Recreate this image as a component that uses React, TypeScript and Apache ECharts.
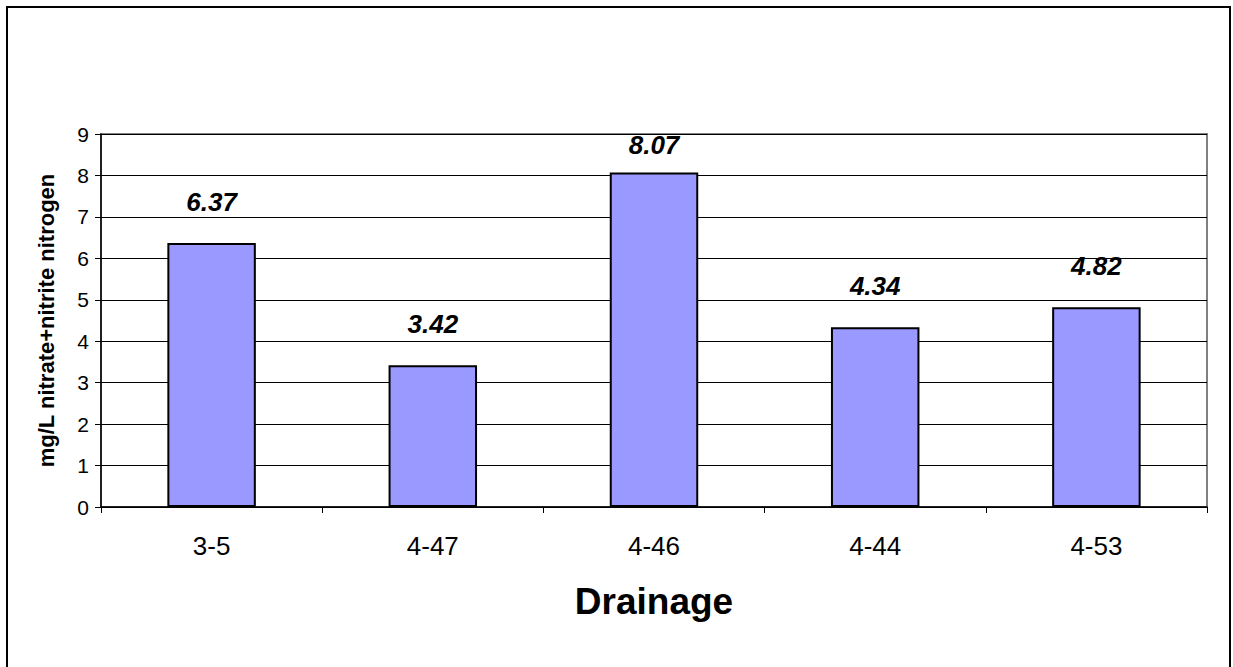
import { useEffect, useRef } from "react";
import * as echarts from "echarts";

const categories = ["3-5", "4-47", "4-46", "4-44", "4-53"];
const values = [6.37, 3.42, 8.07, 4.34, 4.82];
const yMin = 0;
const yMax = 9;
const yStep = 1;

const App = () => {
  const chartRef = useRef<HTMLDivElement>(null);

  useEffect(() => {
    if (!chartRef.current) return;
    document.body.style.margin = "0";

    const chart = echarts.init(chartRef.current, undefined, { renderer: "svg" });

    const font = "Liberation Sans, Arial, sans-serif";
    const gridTop = 134;
    const gridBottom = 160;
    const plotH = 667 - gridTop - gridBottom;
    const pxPerUnit = plotH / (yMax - yMin);

    // labels sit ~28px above the bar, but stay inside the plot area near the top
    const barData = values.map((v) => {
      const room = (yMax - v) * pxPerUnit;
      return { value: v, label: { distance: Math.min(28, room - 24) } };
    });

    const option: echarts.EChartsOption = {
      animation: false,
      backgroundColor: "#fff",
      textStyle: { fontFamily: font },
      graphic: [
        {
          type: "rect",
          shape: { x: 7, y: 7, width: 1223, height: 670 },
          style: { fill: "none", stroke: "#000", lineWidth: 2 },
          silent: true,
        },
      ],
      grid: {
        left: 101,
        right: 26,
        top: gridTop,
        bottom: gridBottom,
        show: true,
        borderColor: "#808080",
        borderWidth: 2,
        backgroundColor: "#fff",
      },
      xAxis: {
        type: "category",
        data: categories,
        name: "Drainage",
        nameLocation: "middle",
        nameGap: 76,
        nameTextStyle: {
          fontSize: 37,
          fontWeight: "bold",
          color: "#000",
          fontFamily: font,
        },
        axisLine: { lineStyle: { color: "#000", width: 1.5 } },
        axisTick: { show: true, length: 6, lineStyle: { color: "#000" } },
        axisLabel: {
          fontSize: 26,
          color: "#000",
          margin: 26,
          fontFamily: font,
        },
        splitLine: { show: false },
      },
      yAxis: {
        type: "value",
        min: yMin,
        max: yMax,
        interval: yStep,
        name: "mg/L nitrate+nitrite nitrogen",
        nameLocation: "middle",
        nameGap: 44,
        nameTextStyle: {
          fontSize: 22,
          fontWeight: "bold",
          color: "#000",
          fontFamily: font,
        },
        axisLine: { show: true, lineStyle: { color: "#000", width: 1.5 } },
        axisTick: { show: true, length: 6, lineStyle: { color: "#000" } },
        axisLabel: {
          fontSize: 21,
          color: "#000",
          margin: 12,
          fontFamily: font,
        },
        splitLine: { show: true, lineStyle: { color: "#000", width: 1 } },
      },
      series: [
        {
          type: "bar",
          data: barData,
          barCategoryGap: "60%",
          itemStyle: {
            color: "#9999FF",
            borderColor: "#000",
            borderWidth: 2,
          },
          label: {
            show: true,
            position: "top",
            fontSize: 26,
            fontWeight: "bold",
            fontStyle: "italic",
            color: "#000",
            fontFamily: font,
            formatter: (p: any) => Number(p.value).toFixed(2),
          },
        },
      ],
    };

    chart.setOption(option);

    return () => {
      chart.dispose();
    };
  }, []);

  return <div ref={chartRef} style={{ width: 1233, height: 667 }} />;
};

export default App;
